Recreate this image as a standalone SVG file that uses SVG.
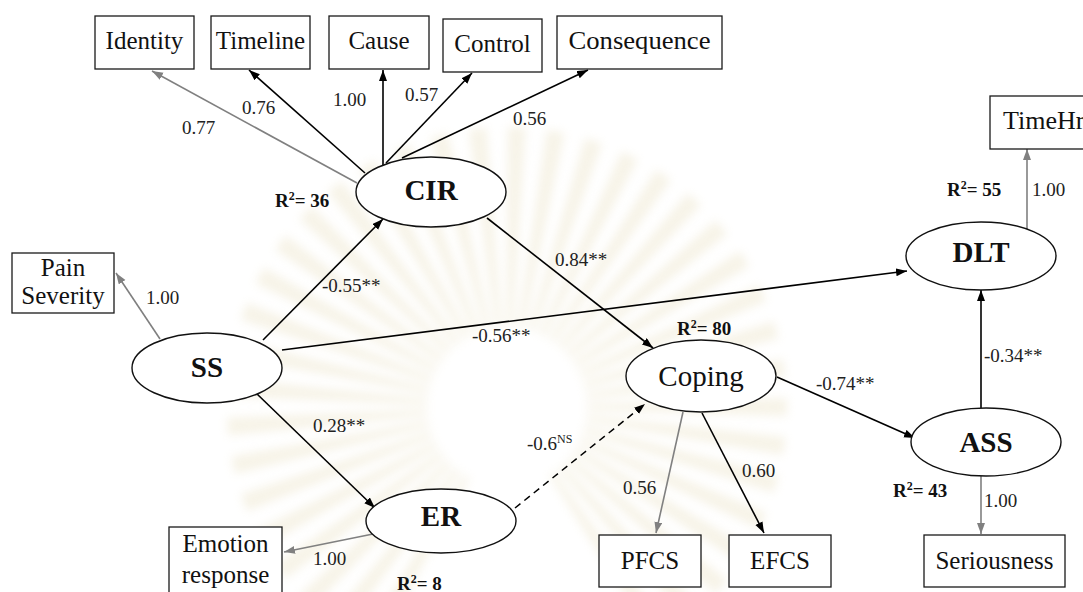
<svg xmlns="http://www.w3.org/2000/svg" xmlns:xlink="http://www.w3.org/1999/xlink" width="1083" height="592" viewBox="0 0 1083 592">
  <style>
    .box { fill: #ffffff; stroke: #1a1a1a; stroke-width: 1.3; }
    .lat { fill: #ffffff; stroke: #111111; stroke-width: 1.4; }
    .obs { font-family: "Liberation Serif", "Times New Roman", serif; font-size: 25px; fill: #111111; text-anchor: middle; }
    .latTxt { font-family: "Liberation Serif", "Times New Roman", serif; font-size: 29px; font-weight: bold; fill: #111111; text-anchor: middle; }
    .copTxt { font-family: "Liberation Serif", "Times New Roman", serif; font-size: 29px; fill: #111111; text-anchor: middle; }
    .coef { font-family: "Liberation Serif", "Times New Roman", serif; font-size: 19px; fill: #222222; }
    .r2 { font-family: "Liberation Serif", "Times New Roman", serif; font-size: 19px; font-weight: bold; fill: #111111; }
    .sup { font-size: 12px; }
    .path { stroke: #000000; stroke-width: 1.6; fill: none; marker-end: url(#arrowBlack); }
    .load { stroke: #000000; stroke-width: 1.6; fill: none; marker-end: url(#arrowBlack); }
    .fixed { stroke: #808080; stroke-width: 1.6; fill: none; marker-end: url(#arrowGrey); }
    .ns { stroke: #000000; stroke-width: 1.5; fill: none; stroke-dasharray: 7 5; marker-end: url(#arrowBlack); }
    .ray { fill: #e6dcb8; }
  </style>
  <defs>
    <marker id="arrowBlack" markerUnits="userSpaceOnUse" markerWidth="12" markerHeight="9" refX="11" refY="4" orient="auto">
      <path d="M0,0 L11,4 L0,8 Z" fill="#000000"/>
    </marker>
    <marker id="arrowGrey" markerUnits="userSpaceOnUse" markerWidth="12" markerHeight="9" refX="11" refY="4" orient="auto">
      <path d="M0,0 L11,4 L0,8 Z" fill="#808080"/>
    </marker>
    <path id="ray" d="M -3,-80 L -9,-280 L 9,-280 L 3,-80 Z"/>
    <filter id="soft" x="-20%" y="-20%" width="140%" height="140%">
      <feGaussianBlur stdDeviation="5"/>
    </filter>
  </defs>

  <rect x="0" y="0" width="1083" height="592" fill="#ffffff"/>

  <!-- faint emblem in the background -->
  <g id="emblem" opacity="0.32" filter="url(#soft)">
    <g class="ray" transform="translate(507,407)">
      <use xlink:href="#ray" transform="rotate(-150)"/>
      <use xlink:href="#ray" transform="rotate(-142)"/>
      <use xlink:href="#ray" transform="rotate(-134)"/>
      <use xlink:href="#ray" transform="rotate(-126)"/>
      <use xlink:href="#ray" transform="rotate(-118)"/>
      <use xlink:href="#ray" transform="rotate(-110)"/>
      <use xlink:href="#ray" transform="rotate(-102)"/>
      <use xlink:href="#ray" transform="rotate(-94)"/>
      <use xlink:href="#ray" transform="rotate(-86)"/>
      <use xlink:href="#ray" transform="rotate(-78)"/>
      <use xlink:href="#ray" transform="rotate(-70)"/>
      <use xlink:href="#ray" transform="rotate(-62)"/>
      <use xlink:href="#ray" transform="rotate(-54)"/>
      <use xlink:href="#ray" transform="rotate(-46)"/>
      <use xlink:href="#ray" transform="rotate(-38)"/>
      <use xlink:href="#ray" transform="rotate(-30)"/>
      <use xlink:href="#ray" transform="rotate(-22)"/>
      <use xlink:href="#ray" transform="rotate(-14)"/>
      <use xlink:href="#ray" transform="rotate(-6)"/>
      <use xlink:href="#ray" transform="rotate(2)"/>
      <use xlink:href="#ray" transform="rotate(10)"/>
      <use xlink:href="#ray" transform="rotate(18)"/>
      <use xlink:href="#ray" transform="rotate(26)"/>
      <use xlink:href="#ray" transform="rotate(34)"/>
      <use xlink:href="#ray" transform="rotate(42)"/>
      <use xlink:href="#ray" transform="rotate(50)"/>
      <use xlink:href="#ray" transform="rotate(58)"/>
      <use xlink:href="#ray" transform="rotate(66)"/>
      <use xlink:href="#ray" transform="rotate(74)"/>
      <use xlink:href="#ray" transform="rotate(82)"/>
      <use xlink:href="#ray" transform="rotate(90)"/>
      <use xlink:href="#ray" transform="rotate(98)"/>
      <use xlink:href="#ray" transform="rotate(106)"/>
      <use xlink:href="#ray" transform="rotate(114)"/>
      <use xlink:href="#ray" transform="rotate(122)"/>
      <use xlink:href="#ray" transform="rotate(130)"/>
      <use xlink:href="#ray" transform="rotate(138)"/>
      <use xlink:href="#ray" transform="rotate(146)"/>
    </g>
  </g>

  <!-- paths, loadings and their coefficients -->
  <g id="connectors">
    <!-- CIR indicators -->
    <line class="fixed" x1="357" y1="183" x2="152" y2="71"/>
    <line class="load" x1="365" y1="173" x2="249" y2="70"/>
    <line class="load" x1="383" y1="165" x2="383" y2="70"/>
    <line class="load" x1="386" y1="163" x2="472" y2="73"/>
    <line class="load" x1="402" y1="158" x2="588" y2="70"/>
    <text class="coef" x="182" y="134">0.77</text>
    <text class="coef" x="242" y="114">0.76</text>
    <text class="coef" x="333" y="106">1.00</text>
    <text class="coef" x="405" y="101">0.57</text>
    <text class="coef" x="513" y="125">0.56</text>

    <!-- SS indicator -->
    <line class="fixed" x1="160" y1="339" x2="116" y2="273"/>
    <text class="coef" x="146" y="304">1.00</text>

    <!-- structural paths -->
    <line class="path" x1="263" y1="340" x2="383" y2="219"/>
    <text class="coef" x="322" y="292">-0.55**</text>

    <line class="path" x1="282" y1="350" x2="907" y2="271"/>
    <text class="coef" x="472" y="342">-0.56**</text>

    <line class="path" x1="487" y1="218" x2="653" y2="348"/>
    <text class="coef" x="555" y="266">0.84**</text>

    <line class="path" x1="256" y1="393" x2="375" y2="508"/>
    <text class="coef" x="313" y="432">0.28**</text>

    <line class="ns" x1="515" y1="508" x2="645" y2="404"/>
    <text class="coef" x="527" y="450">-0.6<tspan class="sup" dy="-7">NS</tspan></text>

    <line class="path" x1="777" y1="377" x2="915" y2="438"/>
    <text class="coef" x="816" y="390">-0.74**</text>

    <line class="path" x1="981" y1="408" x2="981" y2="290"/>
    <text class="coef" x="984" y="362">-0.34**</text>

    <!-- ER indicator -->
    <line class="fixed" x1="373" y1="534" x2="284" y2="552"/>
    <text class="coef" x="313" y="565">1.00</text>

    <!-- Coping indicators -->
    <line class="fixed" x1="683" y1="412" x2="656" y2="533"/>
    <text class="coef" x="623" y="494">0.56</text>
    <line class="load" x1="702" y1="413" x2="764" y2="533"/>
    <text class="coef" x="742" y="477">0.60</text>

    <!-- ASS indicator -->
    <line class="fixed" x1="981" y1="476" x2="981" y2="534"/>
    <text class="coef" x="984" y="507">1.00</text>

    <!-- DLT indicator -->
    <line class="fixed" x1="1027" y1="229" x2="1027" y2="149"/>
    <text class="coef" x="1032" y="196">1.00</text>
  </g>

  <!-- observed indicators -->
  <g id="identity">
    <rect class="box" x="95" y="16" width="99" height="53"/>
    <text class="obs" x="144.5" y="49">Identity</text>
  </g>
  <g id="timeline">
    <rect class="box" x="211" y="16" width="99" height="53"/>
    <text class="obs" x="260.5" y="49">Timeline</text>
  </g>
  <g id="cause">
    <rect class="box" x="329" y="16" width="100" height="53"/>
    <text class="obs" x="379" y="49">Cause</text>
  </g>
  <g id="control">
    <rect class="box" x="443" y="19" width="99" height="53"/>
    <text class="obs" x="492.5" y="52">Control</text>
  </g>
  <g id="consequence">
    <rect class="box" x="557" y="16" width="165" height="53"/>
    <text class="obs" x="639.5" y="49" textLength="142" lengthAdjust="spacingAndGlyphs">Consequence</text>
  </g>
  <g id="timehr">
    <rect class="box" x="990" y="96" width="110" height="53"/>
    <text class="obs" x="1003" y="129" style="text-anchor:start; font-size:26px">TimeHr</text>
  </g>
  <g id="pain-severity">
    <rect class="box" x="12" y="253" width="102" height="60"/>
    <text class="obs" x="63" y="276">Pain</text>
    <text class="obs" x="63" y="304">Severity</text>
  </g>
  <g id="emotion-response">
    <rect class="box" x="169" y="527" width="113" height="70"/>
    <text class="obs" x="225.5" y="552">Emotion</text>
    <text class="obs" x="225.5" y="583">response</text>
  </g>
  <g id="pfcs">
    <rect class="box" x="599" y="535" width="102" height="52"/>
    <text class="obs" x="650" y="569">PFCS</text>
  </g>
  <g id="efcs">
    <rect class="box" x="729" y="535" width="102" height="52"/>
    <text class="obs" x="780" y="569">EFCS</text>
  </g>
  <g id="seriousness">
    <rect class="box" x="924" y="535" width="141" height="52"/>
    <text class="obs" x="994.5" y="569">Seriousness</text>
  </g>

  <!-- latent constructs -->
  <g id="cir">
    <ellipse class="lat" cx="431" cy="192" rx="75" ry="35"/>
    <text class="latTxt" x="431" y="200">CIR</text>
    <text class="r2" x="275" y="207">R<tspan class="sup" dy="-7">2</tspan><tspan dy="7">= 36</tspan></text>
  </g>
  <g id="ss">
    <ellipse class="lat" cx="207" cy="368" rx="75" ry="35"/>
    <text class="latTxt" x="207" y="377">SS</text>
  </g>
  <g id="er">
    <ellipse class="lat" cx="441" cy="521" rx="75" ry="32"/>
    <text class="latTxt" x="441" y="526">ER</text>
    <text class="r2" x="397" y="590">R<tspan class="sup" dy="-7">2</tspan><tspan dy="7">= 8</tspan></text>
  </g>
  <g id="coping">
    <ellipse class="lat" cx="701" cy="376" rx="75" ry="36"/>
    <text class="copTxt" x="701" y="386">Coping</text>
    <text class="r2" x="677" y="335">R<tspan class="sup" dy="-7">2</tspan><tspan dy="7">= 80</tspan></text>
  </g>
  <g id="dlt">
    <ellipse class="lat" cx="981" cy="256" rx="75" ry="34"/>
    <text class="latTxt" x="981" y="262">DLT</text>
    <text class="r2" x="947" y="196">R<tspan class="sup" dy="-7">2</tspan><tspan dy="7">= 55</tspan></text>
  </g>
  <g id="ass">
    <ellipse class="lat" cx="986" cy="442" rx="75" ry="34"/>
    <text class="latTxt" x="986" y="452">ASS</text>
    <text class="r2" x="893" y="497">R<tspan class="sup" dy="-7">2</tspan><tspan dy="7">= 43</tspan></text>
  </g>
</svg>
